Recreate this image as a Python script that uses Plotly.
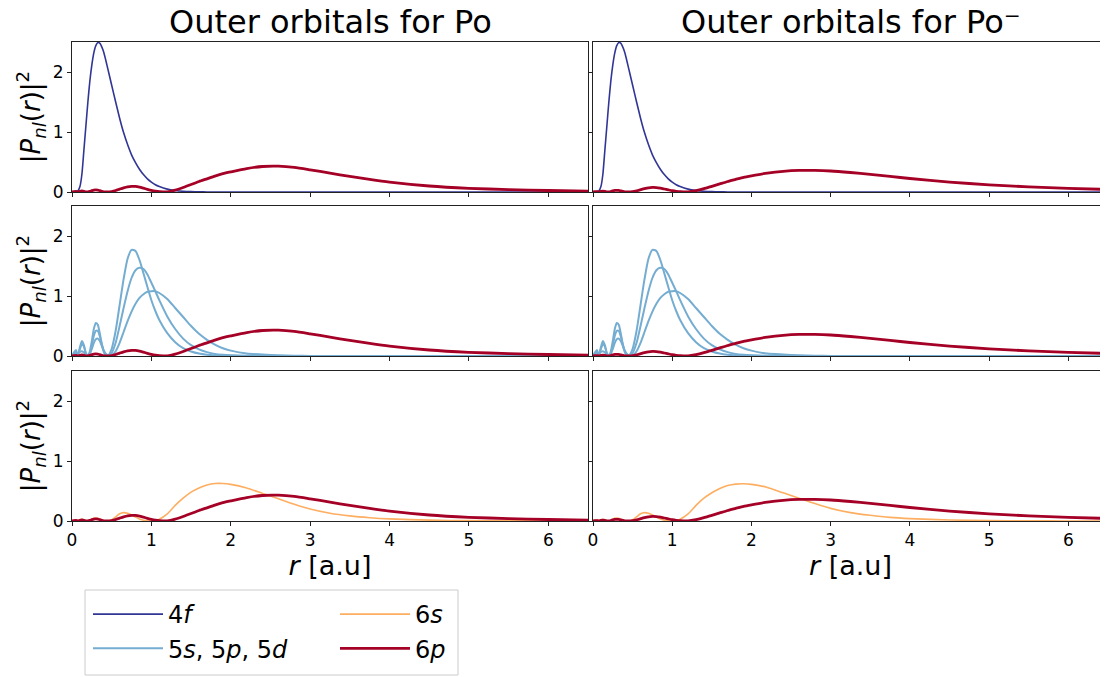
import plotly.graph_objects as go
from plotly.subplots import make_subplots

# ---------------- data ----------------
r = [0, 0.025, 0.05, 0.075, 0.1, 0.125, 0.15, 0.175, 0.2, 0.225, 0.25, 0.275,
     0.3, 0.325, 0.35, 0.375, 0.4, 0.425, 0.45, 0.5, 0.55, 0.6, 0.65, 0.7,
     0.75, 0.8, 0.85, 0.9, 0.95, 1.0, 1.05, 1.1, 1.2, 1.3, 1.4, 1.5, 1.6,
     1.7, 1.8, 1.9, 2.0, 2.2, 2.4, 2.6, 2.8, 3.0, 3.25, 3.5, 3.75, 4.0,
     4.5, 5.0, 5.5, 6.0, 6.5]

orb_4f = [0, 0, 0.002, 0.02, 0.09, 0.3, 0.7, 1.1, 1.5, 1.85, 2.12, 2.32,
          2.44, 2.49, 2.48, 2.42, 2.33, 2.2, 2.06, 1.78, 1.5, 1.23, 0.99, 0.79,
          0.62, 0.49, 0.38, 0.29, 0.22, 0.165, 0.12, 0.09, 0.048, 0.025, 0.012,
          0.006, 0.003, 0.001, 0, 0, 0, 0, 0, 0, 0, 0, 0, 0, 0, 0,
          0, 0, 0, 0, 0]

orb_5s = [0, 0.06, 0.1, 0.01, 0.15, 0.25, 0.18, 0.04, 0.0, 0.08, 0.25, 0.45,
          0.55, 0.52, 0.38, 0.2, 0.07, 0.01, 0.0, 0.12, 0.42, 0.85, 1.28, 1.62,
          1.77, 1.75, 1.6, 1.38, 1.15, 0.93, 0.75, 0.6, 0.38, 0.23, 0.13,
          0.075, 0.04, 0.02, 0.01, 0.005, 0.003, 0.001, 0, 0, 0, 0, 0, 0, 0, 0,
          0, 0, 0, 0, 0]

orb_5p = [0, 0.03, 0.06, 0.03, 0.12, 0.2, 0.16, 0.05, 0.005, 0.05, 0.18, 0.34,
          0.42, 0.42, 0.33, 0.2, 0.09, 0.03, 0.0, 0.05, 0.22, 0.5, 0.8, 1.08,
          1.3, 1.43, 1.47, 1.45, 1.36, 1.22, 1.08, 0.93, 0.66, 0.45, 0.29,
          0.18, 0.11, 0.065, 0.035, 0.02, 0.012, 0.004, 0.001, 0, 0, 0, 0, 0, 0, 0,
          0, 0, 0, 0, 0]

orb_5d = [0, 0, 0.01, 0.04, 0.07, 0.08, 0.06, 0.025, 0.01, 0.04, 0.12, 0.22,
          0.28, 0.29, 0.25, 0.17, 0.09, 0.04, 0.01, 0.01, 0.08, 0.22, 0.4, 0.58,
          0.74, 0.87, 0.97, 1.03, 1.07, 1.08, 1.08, 1.05, 0.95, 0.8, 0.65,
          0.5, 0.37, 0.27, 0.19, 0.13, 0.09, 0.04, 0.025, 0.012, 0.005, 0.002, 0.001, 0, 0, 0,
          0, 0, 0, 0, 0]

po_6s = [0, 0.01, 0.015, 0.003, 0.02, 0.03, 0.02, 0.005, 0.0, 0.01, 0.03, 0.045,
         0.05, 0.045, 0.03, 0.015, 0.005, 0.0, 0.0, 0.02, 0.07, 0.12, 0.14, 0.13,
         0.1, 0.065, 0.035, 0.013, 0.003, 0.0, 0.008, 0.03, 0.12, 0.26, 0.38,
         0.48, 0.55, 0.6, 0.625, 0.625, 0.61, 0.55, 0.46, 0.37, 0.28, 0.2, 0.13, 0.085, 0.055, 0.035,
         0.014, 0.006, 0.002, 0.001, 0]

po_6p = [0, 0.005, 0.008, 0.003, 0.012, 0.018, 0.012, 0.003, 0.002, 0.01, 0.022, 0.032,
         0.035, 0.032, 0.022, 0.012, 0.004, 0.001, 0.0, 0.008, 0.025, 0.048, 0.07, 0.087,
         0.095, 0.092, 0.08, 0.063, 0.045, 0.028, 0.015, 0.006, 0.001, 0.03, 0.075,
         0.125, 0.175, 0.22, 0.265, 0.305, 0.335, 0.39, 0.425, 0.43, 0.41, 0.37, 0.315, 0.26, 0.21, 0.165,
         0.1, 0.062, 0.04, 0.025, 0.016]

neg_6s = [0, 0.01, 0.015, 0.003, 0.02, 0.03, 0.02, 0.005, 0.0, 0.01, 0.03, 0.045,
          0.05, 0.045, 0.03, 0.015, 0.005, 0.0, 0.0, 0.02, 0.07, 0.12, 0.14, 0.13,
          0.1, 0.065, 0.035, 0.013, 0.003, 0.0, 0.008, 0.03, 0.12, 0.26, 0.38,
          0.47, 0.54, 0.59, 0.615, 0.62, 0.61, 0.56, 0.47, 0.38, 0.29, 0.21, 0.14, 0.095, 0.06, 0.04,
          0.017, 0.007, 0.003, 0.001, 0]

neg_6p = [0, 0.004, 0.006, 0.002, 0.01, 0.014, 0.01, 0.002, 0.002, 0.008, 0.018, 0.026,
          0.028, 0.026, 0.018, 0.01, 0.003, 0.001, 0.0, 0.006, 0.02, 0.038, 0.056, 0.07,
          0.076, 0.074, 0.064, 0.05, 0.036, 0.022, 0.012, 0.005, 0.001, 0.022, 0.055,
          0.095, 0.135, 0.175, 0.21, 0.245, 0.27, 0.315, 0.345, 0.36, 0.36, 0.35, 0.325, 0.295, 0.26, 0.225,
          0.165, 0.12, 0.085, 0.06, 0.042]

titles = ["Outer orbitals for Po", "Outer orbitals for Po\u207b"]
x_ticks = [0, 1, 2, 3, 4, 5, 6]
y_ticks = [0, 1, 2]

# ---------------- styling ----------------
C_4F = "#313695"
C_5 = "#74add1"
C_6S = "#fdae61"
C_6P = "#a50026"
FONT = "DejaVu Sans"

fig = make_subplots(rows=3, cols=2)

panel_sets = [
    (1, [("4<i>f</i>", orb_4f, C_4F, 1.6, "legend", True, 1)]),
    (2, [("5<i>s</i>, 5<i>p</i>, 5<i>d</i>", orb_5s, C_5, 2.0, "legend", True, 2),
         ("5<i>s</i>, 5<i>p</i>, 5<i>d</i>", orb_5p, C_5, 2.0, "legend", False, 2),
         ("5<i>s</i>, 5<i>p</i>, 5<i>d</i>", orb_5d, C_5, 2.0, "legend", False, 2)]),
    (3, [("6<i>s</i>", None, C_6S, 1.6, "legend2", True, 3)]),
]

for col in (1, 2):
    s6 = po_6s if col == 1 else neg_6s
    p6 = po_6p if col == 1 else neg_6p
    for row, items in panel_sets:
        for name, y, color, w, leg, show, rank in items:
            yy = s6 if y is None else y
            fig.add_trace(go.Scatter(
                x=r, y=yy, mode="lines", name=name,
                line=dict(color=color, width=w, shape="spline", smoothing=0.6),
                legend=leg, showlegend=(show and col == 1),
                legendgroup=name, legendrank=rank), row=row, col=col)
        fig.add_trace(go.Scatter(
            x=r, y=p6, mode="lines", name="6<i>p</i>",
            line=dict(color=C_6P, width=2.8, shape="spline", smoothing=0.6),
            legend="legend2", showlegend=(row == 1 and col == 1),
            legendgroup="6p", legendrank=4), row=row, col=col)

# page body has an 8px margin: lay out in screen pixels, shifted by OFF
OFF = 8
W, H = 1108 - OFF, 677 - OFF
SL, ST, SR, SB = 72, 42, 1108, 521   # plot area in screen pixels
ML, MT = SL - OFF, ST - OFF
MR = W - (SR - OFF)
MB = H - (SB - OFF)
pw = W - ML - MR
ph = H - MT - MB

def px_x(p):
    return (p - OFF - ML) / pw

def px_y(p):
    return (SB - p) / ph

xdom = [[0, px_x(588)], [px_x(593), 1]]
ydom = {1: [px_y(192), 1], 2: [px_y(356), px_y(206)], 3: [0, px_y(371)]}

axis_common = dict(showline=True, linecolor="#222", linewidth=1,
                   ticks="outside", ticklen=4, tickcolor="#222",
                   showgrid=False, zeroline=False, automargin=False,
                   tickfont=dict(family=FONT, size=17, color="black"))

for row in (1, 2, 3):
    for col in (1, 2):
        idx = (row - 1) * 2 + col
        xa = "xaxis" if idx == 1 else f"xaxis{idx}"
        ya = "yaxis" if idx == 1 else f"yaxis{idx}"
        fig.layout[xa].update(domain=xdom[col - 1], range=[0, 6.5],
                              tickvals=x_ticks, showticklabels=(row == 3),
                              mirror=True, **axis_common)
        fig.layout[ya].update(domain=ydom[row], range=[0, 2.5],
                              tickvals=y_ticks, showticklabels=(col == 1),
                              mirror=(col == 1), **axis_common)
        if row == 3:
            fig.layout[xa].title = dict(text="<i>r</i> [a.u]", standoff=2,
                                        font=dict(family=FONT, size=27, color="black"))
        if col == 1:
            fig.layout[ya].title = dict(text="|<i>P</i><sub><i>nl</i></sub>(<i>r</i>)|<sup>2</sup>",
                                        standoff=4,
                                        font=dict(family=FONT, size=26, color="black"))

for i, t in enumerate(titles):
    fig.add_annotation(text=t, xref="paper", yref="paper",
                       x=(xdom[i][0] + xdom[i][1]) / 2, y=1, yshift=20,
                       xanchor="center", yanchor="middle", showarrow=False,
                       borderpad=0,
                       font=dict(family=FONT, size=32, color="black"))

# legend frame
fig.add_shape(type="rect", xref="paper", yref="paper",
              x0=px_x(85), x1=px_x(458), y0=px_y(675), y1=px_y(590),
              line=dict(color="#cccccc", width=1), fillcolor="white", layer="below")

leg_common = dict(font=dict(family=FONT, size=24, color="black"),
                  bgcolor="rgba(0,0,0,0)", borderwidth=0, orientation="v",
                  tracegroupgap=6, xanchor="left", yanchor="top",
                  itemwidth=70, traceorder="normal")
fig.update_layout(
    legend=dict(x=px_x(88), y=px_y(592), **leg_common),
    legend2=dict(x=px_x(335), y=px_y(592), **leg_common),
)

fig.update_layout(width=W, height=H,
                  margin=dict(l=ML, r=MR, t=MT, b=MB, autoexpand=False),
                  plot_bgcolor="white", paper_bgcolor="white",
                  font=dict(family=FONT, color="black"))

fig.write_html("out.html")
